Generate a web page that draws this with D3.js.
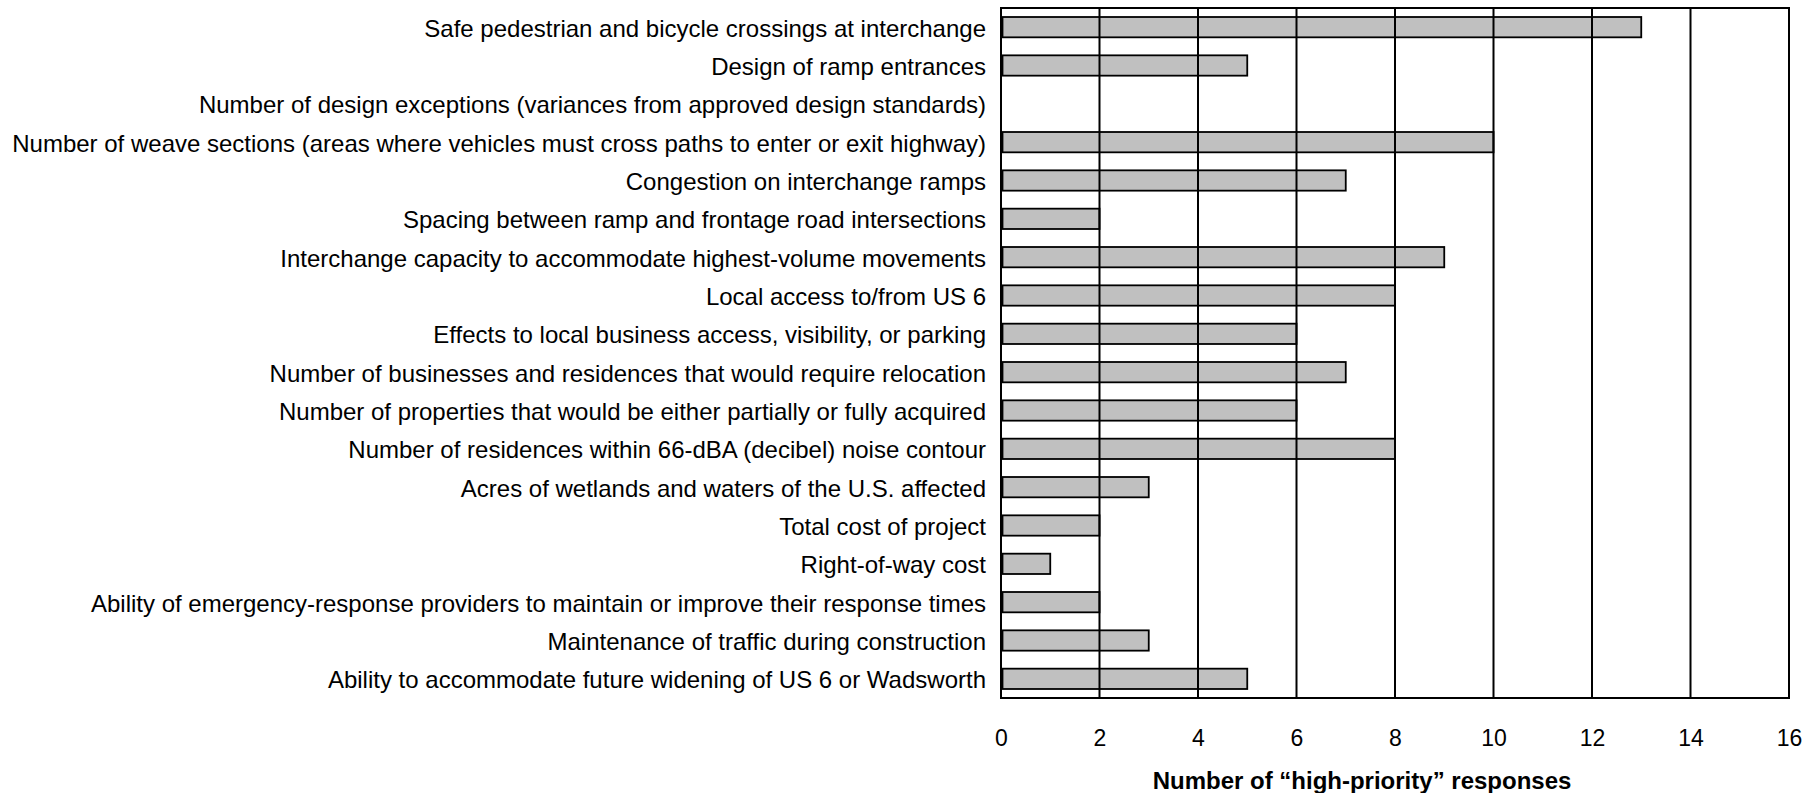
<!DOCTYPE html>
<html>
<head>
<meta charset="utf-8">
<script src="https://cdn.jsdelivr.net/npm/d3@7"></script>
<style>
  html, body { margin: 0; padding: 0; background: #fff; }
  svg { display: block; }
  text { font-family: "Liberation Sans", Arial, sans-serif; fill: #000; }
</style>
</head>
<body>
<svg id="chart" width="1820" height="793"></svg>
<script>
// Criteria rated by respondents, top to bottom
const categories = [
  "Safe pedestrian and bicycle crossings at interchange",
  "Design of ramp entrances",
  "Number of design exceptions (variances from approved design standards)",
  "Number of weave sections (areas where vehicles must cross paths to enter or exit highway)",
  "Congestion on interchange ramps",
  "Spacing between ramp and frontage road intersections",
  "Interchange capacity to accommodate highest-volume movements",
  "Local access to/from US 6",
  "Effects to local business access, visibility, or parking",
  "Number of businesses and residences that would require relocation",
  "Number of properties that would be either partially or fully acquired",
  "Number of residences within 66-dBA (decibel) noise contour",
  "Acres of wetlands and waters of the U.S. affected",
  "Total cost of project",
  "Right-of-way cost",
  "Ability of emergency-response providers to maintain or improve their response times",
  "Maintenance of traffic during construction",
  "Ability to accommodate future widening of US 6 or Wadsworth"
];

// Count of "high-priority" responses per criterion
const responses = [13, 5, 0, 10, 7, 2, 9, 8, 6, 7, 6, 8, 3, 2, 1, 2, 3, 5];

const xTicks = [0, 2, 4, 6, 8, 10, 12, 14, 16];
const xTitle = "Number of \u201Chigh-priority\u201D responses";

const svg = d3.select("#chart");
const plot = { left: 1001, right: 1789, top: 8, bottom: 698 };

const x = d3.scaleLinear().domain([0, 16]).range([plot.left, plot.right]);
const y = d3.scaleBand().domain(categories).range([plot.top, plot.bottom])
  .paddingInner(0.47).paddingOuter(0.235);

// Bars (drawn first so gridlines sit on top)
svg.append("g").selectAll("rect")
  .data(categories.map((c, i) => ({ c, v: responses[i] })).filter(d => d.v > 0))
  .join("rect")
  .attr("x", x(0) + 1.5)
  .attr("y", d => y(d.c))
  .attr("width", d => x(d.v) - x(0) - 1.5)
  .attr("height", y.bandwidth())
  .attr("fill", "#c0c0c0")
  .attr("stroke", "#000")
  .attr("stroke-width", 1.8);

// Vertical gridlines
svg.append("g").selectAll("line")
  .data(xTicks.filter(t => t > 0 && t < 16))
  .join("line")
  .attr("x1", d => x(d)).attr("x2", d => x(d))
  .attr("y1", plot.top).attr("y2", plot.bottom)
  .attr("stroke", "#000").attr("stroke-width", 2);

// Plot frame
svg.append("rect")
  .attr("x", plot.left).attr("y", plot.top)
  .attr("width", plot.right - plot.left).attr("height", plot.bottom - plot.top)
  .attr("fill", "none").attr("stroke", "#000").attr("stroke-width", 2);

// Category labels
const yAxis = d3.axisLeft(y).tickSize(0).tickPadding(15);
const gy = svg.append("g").attr("transform", `translate(${plot.left},0)`).call(yAxis);
gy.select(".domain").remove();
gy.selectAll("text")
  .attr("dy", "0.4em")
  .style("font-family", '"Liberation Sans", Arial, sans-serif')
  .style("font-size", "24px")
  .attr("fill", "#000");

// Value axis labels
const xAxis = d3.axisBottom(x).tickValues(xTicks).tickSize(0).tickPadding(32).tickFormat(d3.format("d"));
const gx = svg.append("g").attr("transform", `translate(0,${plot.bottom})`).call(xAxis);
gx.select(".domain").remove();
gx.selectAll("text")
  .style("font-family", '"Liberation Sans", Arial, sans-serif')
  .style("font-size", "23px")
  .attr("fill", "#000");

// Axis title
svg.append("text")
  .attr("x", 1362).attr("y", 789)
  .attr("text-anchor", "middle")
  .style("font-size", "24px")
  .style("font-weight", "bold")
  .text(xTitle);
</script>
</body>
</html>
